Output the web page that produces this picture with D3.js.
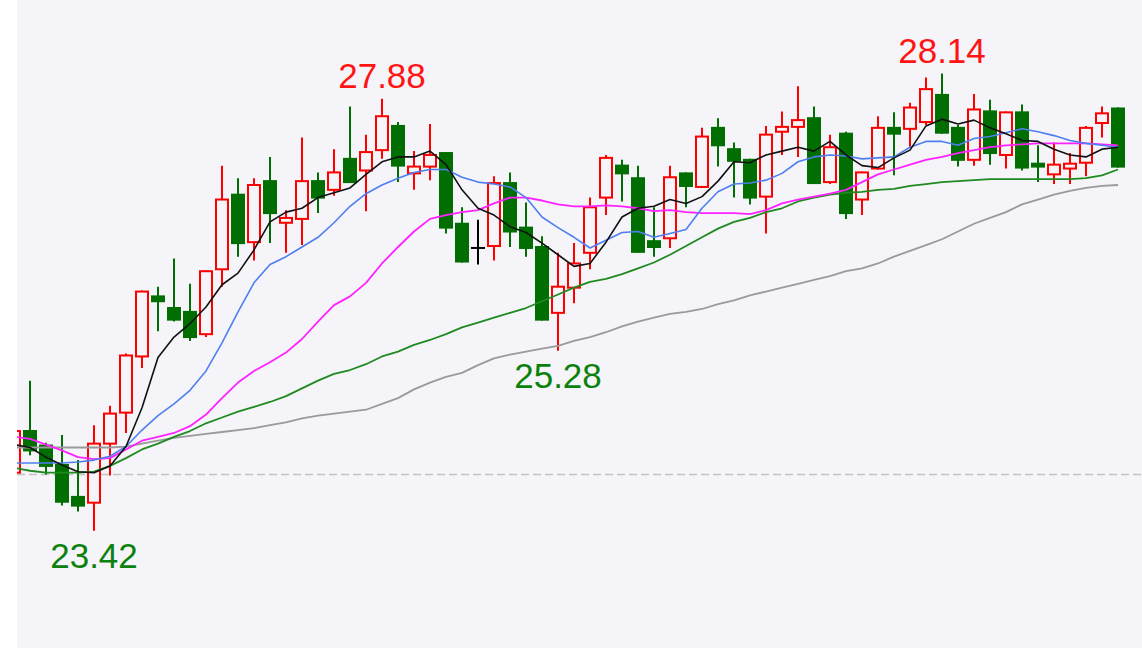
<!DOCTYPE html>
<html>
<head>
<meta charset="utf-8">
<script src="https://cdn.jsdelivr.net/npm/d3@7"></script>
<style>
  html, body { margin: 0; padding: 0; background: #ffffff; }
  svg { display: block; }
</style>
</head>
<body>
<div id="chart"></div>
<script>
// ---- data ----
const open  = [24.02,24.45,24.30,24.10,23.77,23.71,24.32,24.64,25.22,25.84,25.72,25.68,25.45,26.12,26.89,26.40,27.03,26.60,26.64,27.03,
               26.94,27.26,27.14,27.35,27.60,27.11,27.18,27.32,26.59,26.34,26.36,27.01,26.55,26.35,25.67,25.93,26.29,26.86,27.19,27.06,
               26.41,26.44,27.11,26.97,27.58,27.36,27.25,26.87,27.54,27.59,27.68,27.02,27.52,26.84,27.16,27.58,27.57,27.64,27.92,27.58,
               27.25,27.75,27.30,27.74,27.21,27.10,27.16,27.22,27.63,27.78];
const high  = [24.48,24.97,24.33,24.41,24.15,24.51,24.71,25.25,25.90,25.94,26.23,25.97,26.11,27.19,27.06,27.06,27.28,26.73,27.48,27.12,
               27.36,27.80,27.51,27.88,27.64,27.34,27.62,27.33,26.76,26.63,27.08,27.12,26.81,26.46,26.29,26.39,26.86,27.30,27.25,27.19,
               26.76,27.19,27.12,27.58,27.68,27.43,27.26,27.60,27.75,28.01,27.80,27.51,27.54,27.13,27.70,27.74,27.84,28.10,28.14,27.61,
               27.93,27.87,27.75,27.82,27.40,27.43,27.32,27.60,27.80,27.79];
const low   = [23.99,24.20,24.00,23.68,23.62,23.42,23.99,24.43,25.10,25.48,25.58,25.38,25.42,25.94,26.25,26.21,26.39,26.29,26.37,26.70,
               26.88,27.01,26.72,27.26,27.02,26.94,27.04,26.49,26.19,26.17,26.21,26.35,26.25,25.59,25.28,25.77,26.12,26.68,26.82,26.29,
               26.25,26.34,26.76,26.96,27.18,26.86,26.79,26.49,27.30,27.28,27.00,27.00,26.64,26.68,27.15,27.09,27.38,27.61,27.52,27.18,
               27.19,27.20,27.16,27.14,27.02,27.00,27.00,27.08,27.48,27.17];
const close = [24.45,24.25,24.09,23.72,23.68,24.32,24.63,25.23,25.89,25.79,25.60,25.42,26.10,26.84,26.39,26.99,26.70,26.65,27.03,26.86,
               27.12,27.02,27.33,27.70,27.19,27.18,27.30,26.55,26.20,26.34,27.01,26.51,26.34,25.60,25.94,26.18,26.76,27.27,27.11,26.30,
               26.35,27.07,26.98,27.49,27.40,27.24,26.86,27.51,27.59,27.66,27.01,27.38,26.70,27.12,27.58,27.52,27.79,27.98,27.53,27.25,
               27.77,27.32,27.74,27.17,27.18,27.20,27.21,27.58,27.73,27.18];

const ma5  = [24.31,24.28,24.18,24.10,24.03,24.02,24.09,24.29,24.69,25.21,25.42,25.56,25.73,25.96,26.08,26.32,26.61,26.71,26.75,26.86,
              26.91,26.96,27.10,27.23,27.28,27.28,27.34,27.20,26.94,26.75,26.68,26.56,26.50,26.39,26.27,26.15,26.18,26.40,26.66,26.75,
              26.77,26.84,26.80,26.87,27.03,27.23,27.22,27.30,27.34,27.38,27.34,27.44,27.30,27.19,27.17,27.27,27.35,27.60,27.67,27.62,
              27.66,27.58,27.52,27.45,27.44,27.36,27.30,27.28,27.36,27.38];
const ma10 = [24.12,24.12,24.12,24.12,24.13,24.15,24.19,24.29,24.46,24.61,24.73,24.87,25.07,25.36,25.68,25.98,26.17,26.25,26.35,26.45,
              26.60,26.77,26.90,26.99,27.06,27.12,27.15,27.15,27.07,27.02,27.00,26.97,26.86,26.66,26.55,26.45,26.34,26.42,26.50,26.51,
              26.45,26.49,26.53,26.75,26.92,27.00,27.01,27.04,27.11,27.23,27.28,27.30,27.29,27.26,27.27,27.28,27.38,27.44,27.44,27.40,
              27.47,27.49,27.53,27.57,27.54,27.50,27.45,27.42,27.40,27.38];
const ma20 = [24.39,24.37,24.31,24.25,24.18,24.16,24.17,24.26,24.35,24.39,24.43,24.50,24.62,24.79,24.95,25.07,25.16,25.26,25.40,25.58,
              25.75,25.84,25.98,26.18,26.35,26.51,26.64,26.68,26.71,26.73,26.80,26.86,26.86,26.83,26.79,26.77,26.77,26.78,26.77,26.75,
              26.72,26.73,26.71,26.70,26.70,26.70,26.69,26.73,26.80,26.84,26.87,26.90,26.94,27.02,27.10,27.15,27.20,27.25,27.28,27.32,
              27.35,27.38,27.40,27.41,27.42,27.42,27.42,27.42,27.41,27.40];
const ma30 = [24.07,24.04,24.02,24.02,24.02,24.03,24.09,24.17,24.26,24.32,24.39,24.45,24.53,24.59,24.65,24.70,24.75,24.81,24.89,24.97,
              25.04,25.08,25.14,25.22,25.27,25.34,25.39,25.45,25.52,25.57,25.62,25.67,25.72,25.79,25.86,25.93,25.99,26.02,26.07,26.13,
              26.19,26.27,26.36,26.45,26.54,26.61,26.65,26.71,26.75,26.82,26.86,26.89,26.91,26.92,26.94,26.95,26.98,27.00,27.02,27.03,
              27.04,27.05,27.05,27.05,27.05,27.05,27.05,27.06,27.09,27.15];
const ma60 = [24.28,24.28,24.28,24.28,24.28,24.28,24.28,24.29,24.32,24.35,24.38,24.40,24.42,24.44,24.46,24.48,24.51,24.54,24.58,24.61,
              24.63,24.65,24.67,24.73,24.79,24.88,24.95,25.01,25.05,25.13,25.20,25.24,25.27,25.30,25.33,25.38,25.42,25.47,25.53,25.58,
              25.62,25.66,25.68,25.71,25.76,25.80,25.85,25.89,25.93,25.97,26.01,26.05,26.10,26.13,26.18,26.25,26.31,26.37,26.43,26.51,
              26.59,26.65,26.71,26.79,26.84,26.89,26.93,26.96,26.98,26.99];

const refPrice = 24.00;                    // dashed reference line
const highMarks = [23, 58];                // candles whose high is labelled
const lowMarks  = [5, 34];                 // candles whose low is labelled

// ---- layout ----
const W = 1142, H = 648;
const plotLeft = 17;
const bg = "#f4f4f9";
const upColor = "#ff0000", downColor = "#006e00";

const svg = d3.select("#chart").append("svg").attr("width", W).attr("height", H);
svg.append("rect").attr("x", 0).attr("y", 0).attr("width", W).attr("height", H).attr("fill", "#ffffff");
svg.append("rect").attr("x", plotLeft).attr("y", 0).attr("width", W - plotLeft).attr("height", H).attr("fill", bg);

svg.append("defs").append("clipPath").attr("id", "plotclip")
  .append("rect").attr("x", plotLeft).attr("y", 0).attr("width", W - plotLeft).attr("height", H);

const n = close.length;
const x = d3.scaleLinear().domain([0, n - 1]).range([14, 14 + 16 * (n - 1)]);
const y = d3.scaleLinear().domain([22.21, 28.90]).range([H, 0]);

const g = svg.append("g").attr("clip-path", "url(#plotclip)");

// reference dashed line
g.append("line")
  .attr("x1", plotLeft).attr("x2", W)
  .attr("y1", y(refPrice)).attr("y2", y(refPrice))
  .attr("stroke", "#c4c4c4").attr("stroke-width", 1.5).attr("stroke-dasharray", "8,4");

const idx = d3.range(n);
const candles = g.append("g").selectAll("g").data(idx).join("g");

function colorOf(i) {
  if (close[i] > open[i]) return upColor;
  if (close[i] < open[i]) return downColor;
  return "#000000";
}

candles.append("line")
  .attr("x1", i => x(i)).attr("x2", i => x(i))
  .attr("y1", i => y(high[i])).attr("y2", i => y(low[i]))
  .attr("stroke", colorOf).attr("stroke-width", 2);

// up candles: hollow
candles.filter(i => close[i] > open[i]).append("rect")
  .attr("x", i => x(i) - 6).attr("width", 12)
  .attr("y", i => y(close[i])).attr("height", i => Math.max(1, y(open[i]) - y(close[i])))
  .attr("fill", bg).attr("stroke", upColor).attr("stroke-width", 2);

// down candles: filled
candles.filter(i => close[i] < open[i]).append("rect")
  .attr("x", i => x(i) - 7).attr("width", 14)
  .attr("y", i => y(open[i]) - 1).attr("height", i => Math.max(2, y(close[i]) - y(open[i]) + 2))
  .attr("fill", downColor);

// flat candles: cross
candles.filter(i => close[i] === open[i]).append("line")
  .attr("x1", i => x(i) - 7).attr("x2", i => x(i) + 7)
  .attr("y1", i => y(close[i])).attr("y2", i => y(close[i]))
  .attr("stroke", "#000000").attr("stroke-width", 2);

// moving averages
const maSeries = [
  { values: ma60, color: "#9a9a9a", width: 1.8 },
  { values: ma30, color: "#1f8a1f", width: 1.8 },
  { values: ma20, color: "#ff22ff", width: 1.8 },
  { values: ma10, color: "#4f7fef", width: 1.6 },
  { values: ma5,  color: "#111111", width: 1.6 }
];
const line = d3.line().x((d, i) => x(i)).y(d => y(d)).curve(d3.curveLinear);
g.append("g").selectAll("path").data(maSeries).join("path")
  .attr("d", s => line(s.values))
  .attr("fill", "none")
  .attr("stroke", s => s.color)
  .attr("stroke-width", s => s.width)
  .attr("stroke-linejoin", "round");

// extreme labels
const font = "'Liberation Sans', Arial, sans-serif";
svg.append("g").selectAll("text").data(highMarks).join("text")
  .attr("x", i => x(i)).attr("y", i => y(high[i]) - 11)
  .attr("text-anchor", "middle")
  .attr("font-family", font).attr("font-size", 35)
  .attr("fill", "#ff1414")
  .text(i => high[i].toFixed(2));
svg.append("g").selectAll("text").data(lowMarks).join("text")
  .attr("x", i => x(i)).attr("y", i => y(low[i]) + 37)
  .attr("text-anchor", "middle")
  .attr("font-family", font).attr("font-size", 35)
  .attr("fill", "#0c820c")
  .text(i => low[i].toFixed(2));
</script>
</body>
</html>
